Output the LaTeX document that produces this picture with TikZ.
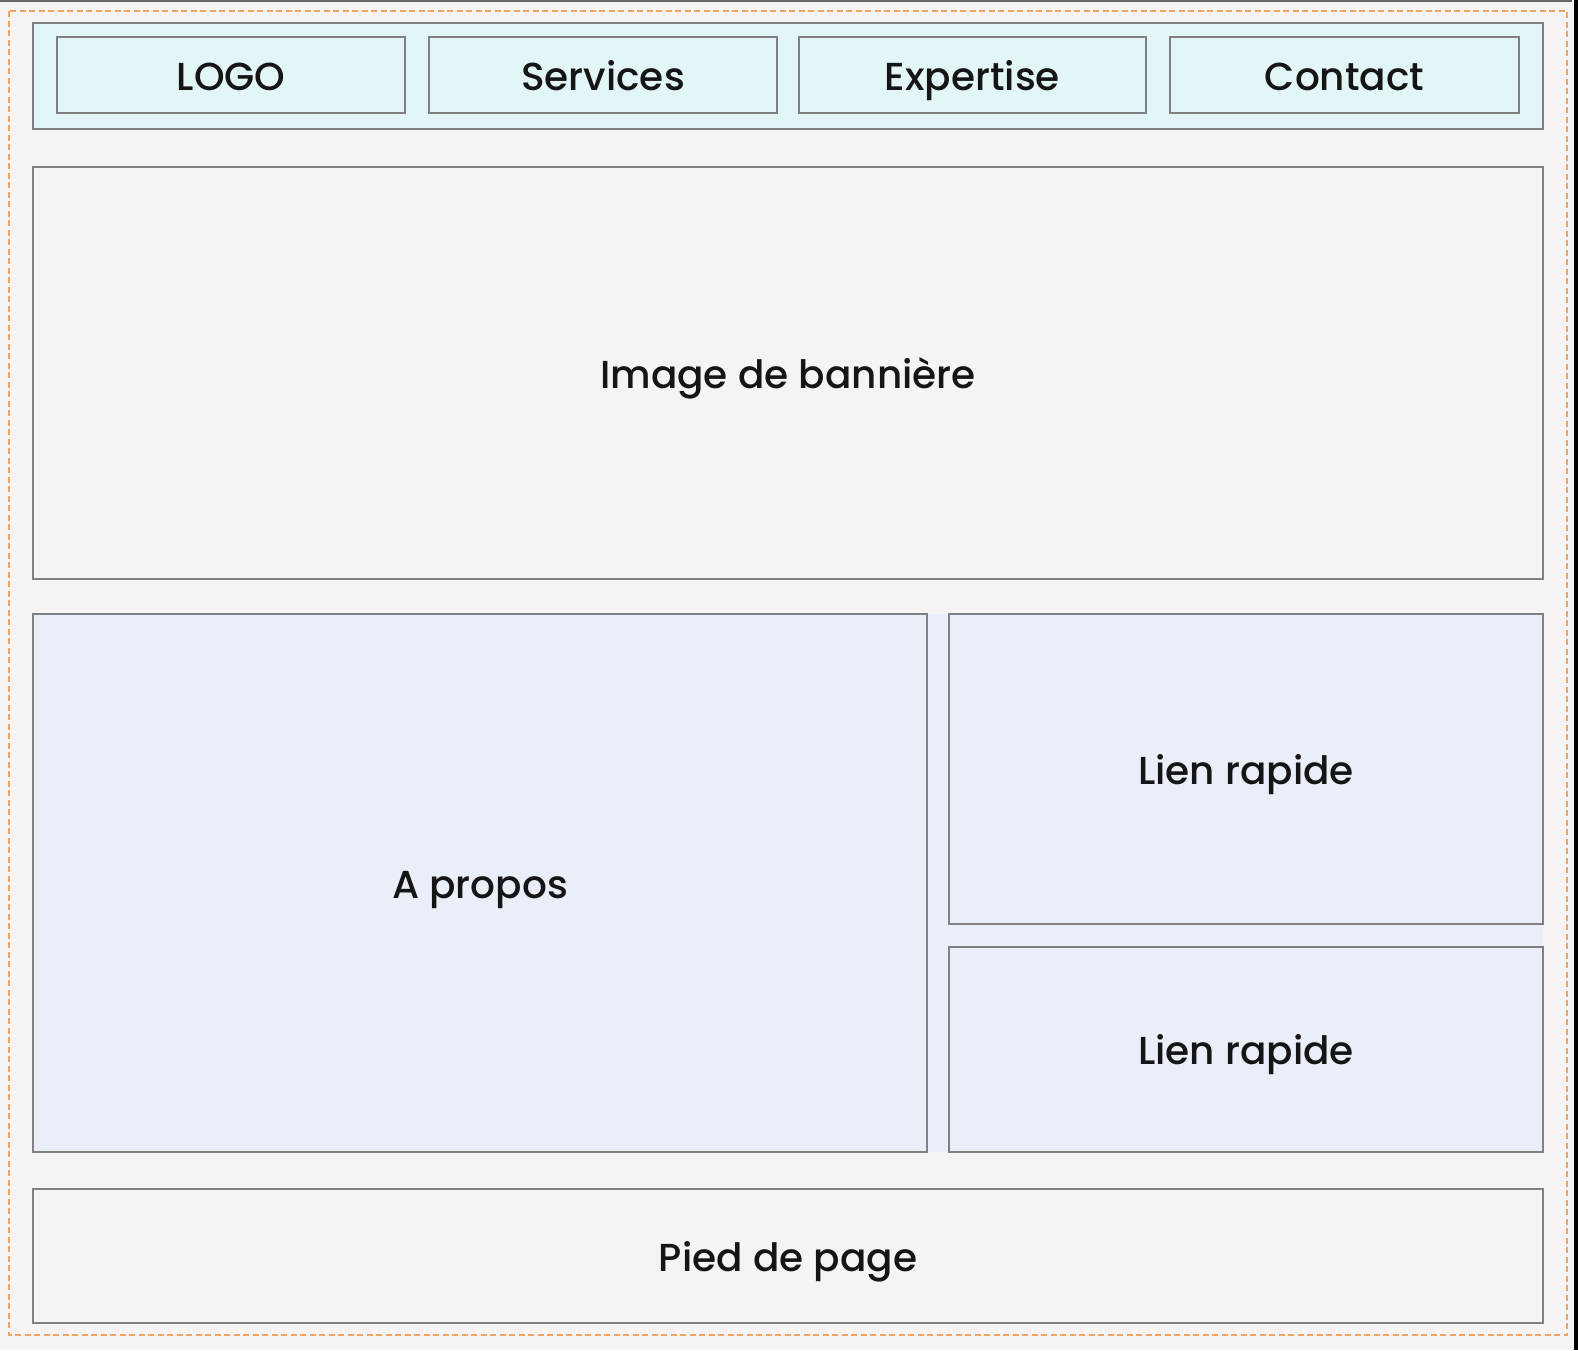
\documentclass[tikz,border=0pt]{standalone}
\usepackage{fontspec}
\setmainfont{Poppins}[UprightFont={* Medium}]
\definecolor{pagebg}{HTML}{F5F3F3}
\definecolor{headfill}{HTML}{E3F6F7}
\definecolor{midfill}{HTML}{EAEEF8}
\definecolor{edge}{HTML}{808080}
\definecolor{guide}{HTML}{F0A462}
\definecolor{ink}{HTML}{151515}
\begin{document}
\begin{tikzpicture}[x=1pt,y=-1pt,
  panel/.style={draw=edge,line width=2pt,inner sep=0pt,outer sep=0pt,
    text=ink,font=\fontsize{39}{47}\selectfont,text height=30pt,text depth=0pt},
  headpanel/.style={panel,fill=headfill},
  midpanel/.style={panel,fill=midfill},
  plainpanel/.style={panel,fill=pagebg}]
  % page
  \fill[pagebg] (0,0) rectangle (1578,1350);
  \useasboundingbox (0,0) rectangle (1578,1350);
  \fill[black!60] (0,0) rectangle (1572,2);
  \fill[black] (1574,0) rectangle (1578,1350);
  % layout guide
  \draw[guide,line width=2pt,dash pattern=on 6pt off 3.5pt] (9,11) rectangle (1567,1335);
  % header bar
  \node[headpanel,minimum width=1510pt,minimum height=106pt] (header) at (788,76) {};
  \node[headpanel,minimum width=348pt,minimum height=76pt] (logo) at (231,75) {LOGO};
  \node[headpanel,minimum width=348pt,minimum height=76pt] (services) at (603,75) {Services};
  \node[headpanel,minimum width=347pt,minimum height=76pt] (expertise) at (972.5,75) {Expertise};
  \node[headpanel,minimum width=349pt,minimum height=76pt] (contact) at (1344.5,75) {Contact};
  % banner
  \node[plainpanel,minimum width=1510pt,minimum height=412pt] (banner) at (788,373) {Image de bannière};
  % content area
  \fill[midfill] (33,614) rectangle (1543,1152);
  \node[midpanel,minimum width=894pt,minimum height=538pt] (about) at (480,883) {A propos};
  \node[midpanel,minimum width=594pt,minimum height=310pt] (link1) at (1246,769) {Lien rapide};
  \node[midpanel,minimum width=594pt,minimum height=205pt] (link2) at (1246,1049.5) {Lien rapide};
  % footer
  \node[plainpanel,minimum width=1510pt,minimum height=134pt] (footer) at (788,1256) {Pied de page};
\end{tikzpicture}
\end{document}
